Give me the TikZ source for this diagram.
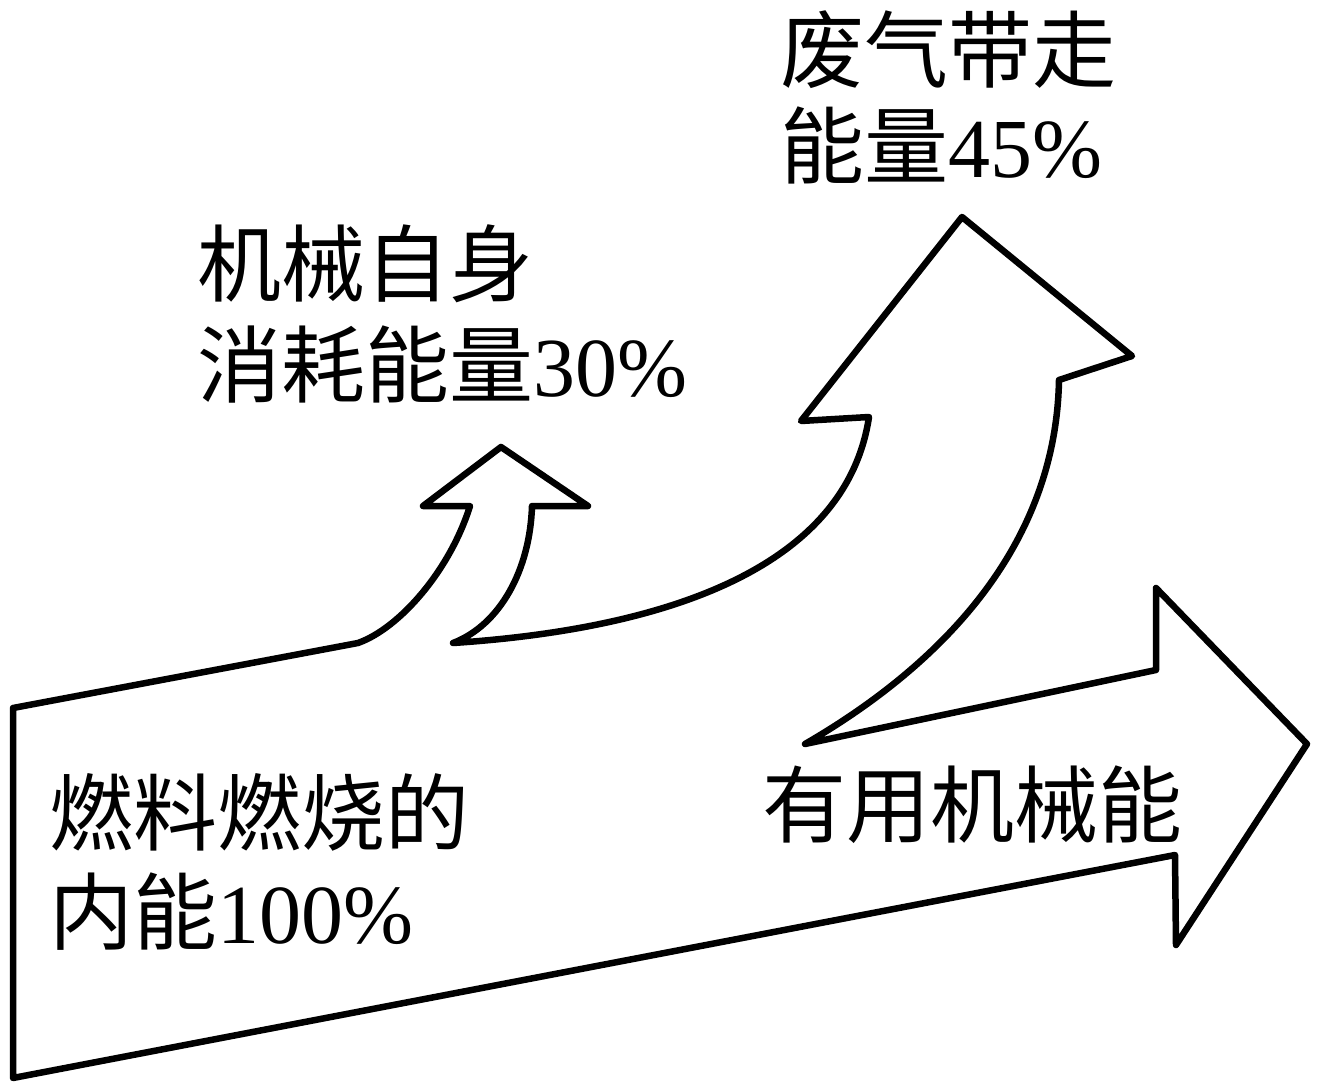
\documentclass[tikz,border=0pt]{standalone}
\usepackage{fontspec}
\setmainfont{Liberation Serif}
\newfontfamily\cjk{Noto Sans CJK SC}
\begin{document}
\begin{tikzpicture}[x=1pt,y=-1pt,
  outline/.style={draw=black,line width=6.5pt,line join=round,fill=white},
  lbl/.style={anchor=base west,inner sep=0pt,font=\fontsize{84}{100}\selectfont}]
\useasboundingbox (0,0) rectangle (1318,1091);
% vertices of the flow outline
\coordinate (A) at (13,1078);
\coordinate (B) at (13,708);
\coordinate (C) at (358,643);
\coordinate (D) at (470,506);
\coordinate (E) at (423,506);
\coordinate (F) at (501,447);
\coordinate (G) at (588,506);
\coordinate (H) at (532,506);
\coordinate (I) at (453,643);
\coordinate (J) at (869,417);
\coordinate (K) at (801,421);
\coordinate (L) at (962,217);
\coordinate (M) at (1132,356);
\coordinate (N) at (1059,380);
\coordinate (O) at (805,744);
\coordinate (P) at (1156,670);
\coordinate (Q) at (1156,588);
\coordinate (R) at (1307,744);
\coordinate (S) at (1176,945);
\coordinate (T) at (1175,855);
\draw[outline] (A) -- (B) -- (C)
  .. controls (400,628) and (450,570) .. (D)
  -- (E) -- (F) -- (G) -- (H)
  .. controls (530,570) and (500,625) .. (I)
  .. controls (650,630) and (845,575) .. (J)
  -- (K) -- (L) -- (M) -- (N)
  .. controls (1056,540) and (950,660) .. (O)
  -- (P) -- (Q) -- (R) -- (S) -- (T) -- cycle;
% labels
\node[lbl] (waste1) at (780,82) {\cjk 废气带走};
\node[lbl] (waste2) at (780,178) {{\cjk 能量}45\%};
\node[lbl] (mech1) at (197,296) {\cjk 机械自身};
\node[lbl] (mech2) at (197,397) {{\cjk 消耗能量}30\%};
\node[lbl] (fuel1) at (49,844) {\cjk 燃料燃烧的};
\node[lbl] (fuel2) at (49,943) {{\cjk 内能}100\%};
\node[lbl] (useful) at (762,836) {\cjk 有用机械能};
\end{tikzpicture}
\end{document}
